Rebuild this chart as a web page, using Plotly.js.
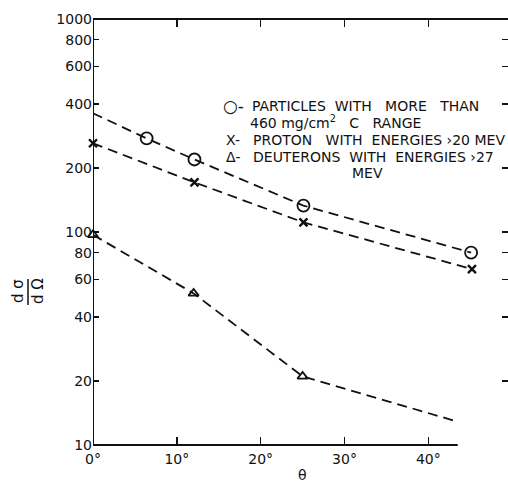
<!DOCTYPE html>
<html><head><meta charset="utf-8">
<script src="https://cdn.plot.ly/plotly-3.0.1.min.js"></script>
<style>html,body{margin:0;padding:0;background:#fff}</style>
</head><body><div id="chart" style="width:508px;height:483px"></div>
<script>
// ---- data ----
const angleTicks = [0, 10, 20, 30, 40];
const angleTickText = ["0°", "10°", "20°", "30°", "40°"];
const yTicks = [10, 20, 40, 60, 80, 100, 200, 400, 600, 800, 1000];
const yTickText = ["10", "20", "40", "60", "80", "100", "200", "400", "600", "800", "1000"];

const particlesAngle = [0, 6.4, 12.1, 25.1, 45.1];
const particlesValue = [361, 275, 219, 133, 80];
const protonAngle = [0, 12.1, 25.1, 45.2];
const protonValue = [261, 171, 111, 67];
const deuteronAngle = [0, 12.0, 25.0, 43.4];
const deuteronValue = [97, 51.5, 21, 12.9];

const S = "\u00A0";
const legendLines = [
  "PARTICLES" + S + S + "WITH" + S + S + S + "MORE" + S + S + S + "THAN",
  "460" + S + "mg/cm<sup>2</sup>" + S + S + S + "C" + S + S + S + "RANGE",
  "PROTON" + S + S + S + "WITH" + S + S + "ENERGIES" + S + "\u203A20" + S + "MEV",
  "DEUTERONS" + S + S + "WITH" + S + S + "ENERGIES" + S + "\u203A27",
  "MEV"
];
const legendSymbols = ["\u25CB-", "X-", "\u0394-"];

// ---- layout helpers ----
const W = 508, H = 483, ML = 93, MR = 0, MT = 19, MB = 38;
const PW = W - ML - MR, PH = H - MT - MB;
const px = v => (v - ML) / PW;
const py = v => (H - MB - v) / PH;

const dash = "10px,6px";
const black = "#111";

const traces = [
  {x: particlesAngle, y: particlesValue, mode: "lines", line: {color: black, width: 1.8, dash: dash}, hoverinfo: "skip"},
  {x: particlesAngle.slice(1), y: particlesValue.slice(1), mode: "markers",
   marker: {symbol: "circle-open", size: 12, color: black, line: {width: 1.8, color: black}}},
  {x: protonAngle, y: protonValue, mode: "lines+markers", line: {color: black, width: 1.8, dash: dash},
   marker: {symbol: "x-thin-open", size: 8, color: black, line: {width: 2.4, color: black}}},
  {x: deuteronAngle, y: deuteronValue, mode: "lines", line: {color: black, width: 1.8, dash: dash}, hoverinfo: "skip"},
  {x: deuteronAngle.slice(0, 3), y: deuteronValue.slice(0, 3), mode: "markers",
   marker: {symbol: "triangle-up-open", size: 9, color: black, line: {width: 1.8, color: black}}}
];
traces.forEach(t => { t.cliponaxis = false; });

const font = {family: "DejaVu Sans", size: 14, color: black};
const annotations = [];
const lineY = [106, 122, 140, 157, 173];
const textX = [250, 248, 251, 251, null];
legendLines.forEach((txt, i) => {
  if (i === 4) {
    annotations.push({xref: "paper", yref: "paper", x: px(367), y: py(lineY[i]), xanchor: "center", yanchor: "middle",
      text: txt, showarrow: false, font: font});
  } else {
    annotations.push({xref: "paper", yref: "paper", x: px(textX[i]), y: py(lineY[i]), xanchor: "left", yanchor: "middle",
      text: txt, showarrow: false, font: font});
  }
});
const symRows = [0, 2, 3];
legendSymbols.forEach((s, i) => {
  annotations.push({xref: "paper", yref: "paper", x: px(i === 0 ? 221 : 224), y: py(lineY[symRows[i]]), xanchor: "left", yanchor: "middle",
    text: s, showarrow: false, font: Object.assign({}, font, {size: i === 0 ? 17 : 14})});
});
// y title as fraction
annotations.push({xref: "paper", yref: "paper", x: px(18), y: py(291), xanchor: "center", yanchor: "middle",
  text: "d" + S + "σ", textangle: -90, showarrow: false, font: {family: "DejaVu Sans", size: 15, color: black}});
annotations.push({xref: "paper", yref: "paper", x: px(38), y: py(291), xanchor: "center", yanchor: "middle",
  text: "d" + S + "Ω", textangle: -90, showarrow: false, font: {family: "DejaVu Sans", size: 15, color: black}});
// x title
annotations.push({xref: "paper", yref: "paper", x: px(302), y: py(475), xanchor: "center", yanchor: "middle",
  text: "θ", showarrow: false, font: {family: "DejaVu Sans", size: 14, color: black}});

const shapes = [
  {type: "line", xref: "x", yref: "paper", x0: 0, x1: 0, y0: 0, y1: 1, line: {color: black, width: 2}},
  {type: "line", xref: "paper", yref: "paper", x0: 0, x1: 1, y0: 1, y1: 1, line: {color: black, width: 2.2}},
  {type: "line", xref: "x", yref: "paper", x0: 0, x1: 43.5, y0: 0, y1: 0, line: {color: black, width: 2}},
  {type: "line", xref: "paper", yref: "paper", x0: px(28), x1: px(28), y0: py(279), y1: py(305), line: {color: black, width: 1.5}}
];

const layout = {
  width: W, height: H,
  margin: {l: ML, r: MR, t: MT, b: MB, pad: 0},
  paper_bgcolor: "#fff", plot_bgcolor: "#fff",
  showlegend: false,
  xaxis: {range: [0, 49.5], tickvals: angleTicks, ticktext: angleTickText, ticks: "inside", ticklen: 8, tickwidth: 1.5,
    tickcolor: black, mirror: "ticks", showline: false, showgrid: false, zeroline: false, ticklabelstandoff: 4,
    tickfont: {family: "DejaVu Sans", size: 14, color: black}},
  yaxis: {type: "log", range: [1, 3], tickvals: yTicks, ticktext: yTickText, ticks: "inside", ticklen: 6, tickwidth: 1.5,
    tickcolor: black, mirror: "ticks", showline: false, showgrid: false, zeroline: false,
    tickfont: {family: "DejaVu Sans", size: 14, color: black}},
  annotations: annotations,
  shapes: shapes
};

Plotly.newPlot("chart", traces, layout, {displayModeBar: false, staticPlot: true});
</script>
</body></html>
